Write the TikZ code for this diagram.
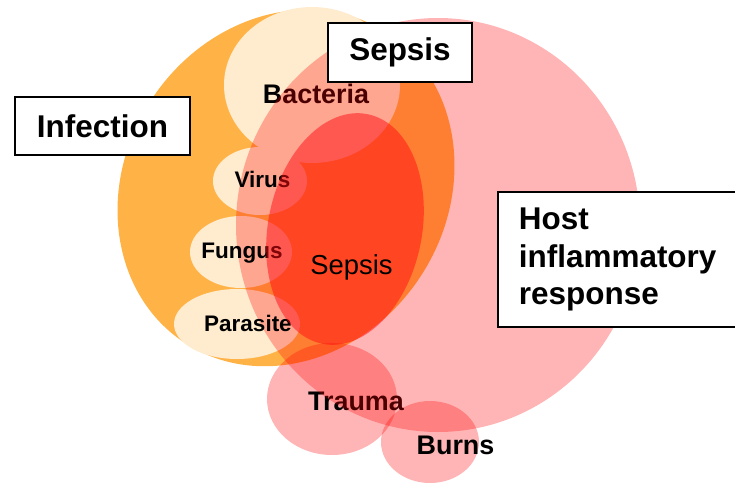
\documentclass[tikz,border=0pt]{standalone}
\usepackage{fontspec}
\setmainfont{Liberation Sans}
\usepackage{xcolor}
\definecolor{infectorange}{HTML}{FFB347}
\definecolor{germcream}{HTML}{FFEBCD}
\definecolor{hostred}{HTML}{FF0000}
\definecolor{sepsisred}{HTML}{FF0C12}
\usepackage{tikz}

\begin{document}
\begin{tikzpicture}[x=0.02cm, y=-0.02cm,
  titlebox/.style={draw, line width=1.1pt, fill=white, align=center,
              font=\fontsize{17.9}{21.5}\selectfont\bfseries},
  germ/.style={anchor=base, font=\fontsize{12.8}{15}\selectfont\bfseries},
  cause/.style={anchor=base, font=\fontsize{15.3}{18}\selectfont\bfseries},
  hostlayer/.style={fill=hostred, fill opacity=0.29}
]
  \useasboundingbox (0,0) rectangle (735,484);

  % Infection
  \fill[infectorange, rotate around={-33:(286,188)}] (286,188) ellipse [x radius=161, y radius=185];

  % Pathogens
  \fill[germcream] (312,85) ellipse [x radius=88, y radius=78];
  \fill[germcream] (260,181) ellipse [x radius=47, y radius=34];
  \fill[germcream] (241,252) ellipse [x radius=51, y radius=36];
  \fill[germcream] (237,324) ellipse [x radius=63, y radius=35];

  % Non-infectious insults
  \fill[hostlayer] (332,399) ellipse [x radius=65, y radius=56];
  \fill[hostlayer] (430,442) ellipse [x radius=49, y radius=41];

  % Labels under the host response
  \node[cause] (bacteria) at (316,103) {Bacteria};
  \node[cause] (trauma) at (356,410) {Trauma};
  \node[cause] (burns) at (455.5,454) {Burns};

  % Host inflammatory response
  \fill[hostlayer] (438,225) ellipse [x radius=202, y radius=207];

  % Labels under sepsis
  \node[germ] (virus) at (262.5,187) {Virus};
  \node[germ] (fungus) at (242,258) {Fungus};
  \node[germ] (parasite) at (248,331) {Parasite};

  % Sepsis
  \fill[sepsisred, fill opacity=0.5, rotate around={-11:(345,229)}] (345,229) ellipse [x radius=77, y radius=117];
  \node[anchor=base, font=\fontsize{15.6}{18}\selectfont] (sepsiscore) at (351.5,274) {Sepsis};

  % Boxes
  \node[titlebox, minimum width=3.5cm, minimum height=1.16cm] (infection) at (102.5,126) {Infection};
  \node[titlebox, minimum width=2.88cm, minimum height=1.18cm] (sepsis) at (400,52.5) {Sepsis};
  \node[titlebox, align=left, anchor=west, text width=4.16cm, inner xsep=0.42cm,
        minimum height=2.7cm] (host) at (497,259.5) {Host\\inflammatory\\response};
\end{tikzpicture}
\end{document}
